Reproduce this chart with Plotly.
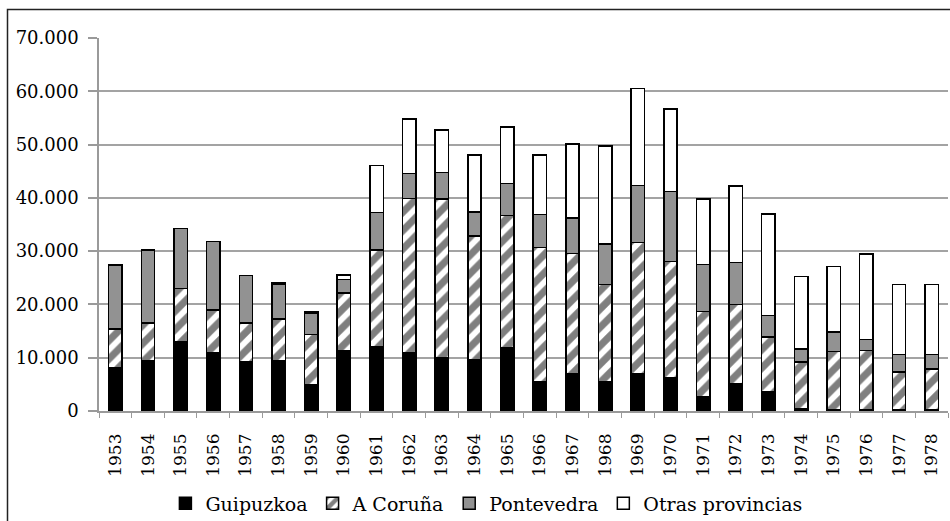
import plotly.graph_objects as go

# Years on the category axis
years = [str(y) for y in range(1953, 1979)]

# Emigrants by province of origin (stacked)
guipuzkoa = [8100, 9450, 13000, 10900, 9200, 9450, 4950, 11400, 12100, 11000,
             9950, 9650, 11950, 5450, 7000, 5450, 6950, 6150, 2700, 5150,
             3700, 500, 200, 300, 200, 150]
a_coruna = [7300, 7070, 10000, 8100, 7300, 7850, 9400, 10750, 18100, 28900,
            29850, 23200, 24700, 25200, 22600, 18250, 24650, 21900, 16000, 14800,
            10200, 8650, 11000, 11100, 7150, 7750]
pontevedra = [12000, 13720, 11230, 12800, 8900, 6550, 4050, 2500, 7050, 4700,
              4950, 4500, 6050, 6250, 6650, 7650, 10750, 13100, 8750, 7900,
              4000, 2500, 3650, 2000, 3250, 2700]
otras = [0, 0, 0, 0, 0, 250, 300, 850, 8850, 10200,
         7950, 10650, 10600, 11100, 13850, 18400, 18150, 15500, 12350, 14350,
         19100, 13600, 12300, 16100, 13150, 13100]

y_ticks = [0, 10000, 20000, 30000, 40000, 50000, 60000, 70000]

FONT = "DejaVu Serif"
outline = dict(color="black", width=1.5)

fig = go.Figure()
fig.add_trace(go.Bar(name="Guipuzkoa", x=years, y=guipuzkoa,
                     marker=dict(color="black", line=outline)))
fig.add_trace(go.Bar(name="A Coruña", x=years, y=a_coruna,
                     marker=dict(color="white", line=outline,
                                 pattern=dict(shape="/", fgcolor="black",
                                              bgcolor="white", size=13,
                                              solidity=0.55))))
fig.add_trace(go.Bar(name="Pontevedra", x=years, y=pontevedra,
                     marker=dict(color="#929292", line=outline)))
fig.add_trace(go.Bar(name="Otras provincias", x=years, y=otras,
                     marker=dict(color="white", line=outline)))

# Outer frame around the whole chart
fig.add_shape(type="rect", xref="paper", yref="paper",
              x0=(7.5 - 99) / 849, x1=(962 - 99) / 849,
              y0=(411.5 - 532) / 373, y1=(411.5 - 10) / 373,
              line=dict(color="#222", width=1.5), fillcolor="rgba(0,0,0,0)",
              layer="below")

fig.update_layout(
    width=950, height=521,
    margin=dict(l=99, r=2, t=38, b=110),
    barmode="stack",
    bargap=0.59,
    separators=",.",
    paper_bgcolor="white",
    plot_bgcolor="white",
    font=dict(family=FONT, color="black"),
    showlegend=True,
    legend=dict(orientation="h", xref="container", yref="container",
                x=0.512, xanchor="center", y=0.034, yanchor="middle",
                font=dict(family=FONT, size=19, color="black"),
                itemwidth=30, traceorder="normal", tracegroupgap=0),
    xaxis=dict(type="category", showline=True, linecolor="#9a9a9a",
               linewidth=1.5, ticks="outside", tickson="boundaries",
               ticklen=5, tickcolor="#9a9a9a", tickwidth=1,
               tickangle=-90, tickfont=dict(family=FONT, size=17),
               ticklabelstandoff=14, showgrid=False),
    yaxis=dict(range=[0, 70000], tickvals=y_ticks, tickformat=",",
               showline=True, linecolor="#9a9a9a", linewidth=1.5,
               ticks="outside", ticklen=9, tickcolor="#9a9a9a", tickwidth=1.5,
               gridcolor="#a3a3a3", gridwidth=1.5,
               tickfont=dict(family=FONT, size=18),
               ticklabelstandoff=6, zeroline=False),
)

fig.write_html("out.html")
